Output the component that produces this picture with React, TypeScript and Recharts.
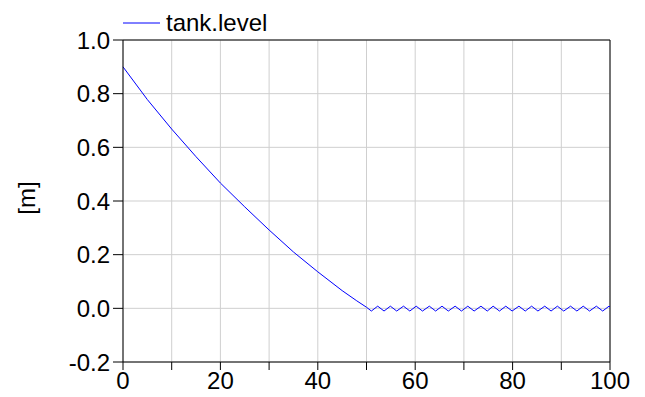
import { LineChart, Line, XAxis, YAxis, CartesianGrid, Legend, ReferenceLine } from "recharts"

// time [s] and tank level [m]
const time = [
  0, 5, 10, 15, 20, 25, 30, 35, 40, 45, 48, 50,
  51.0, 52.3, 53.6, 54.9, 56.2, 57.6, 58.9, 60.2, 61.5, 62.9, 64.2, 65.5,
  66.8, 68.2, 69.5, 70.8, 72.1, 73.5, 74.8, 76.0, 77.3, 78.6, 79.9, 81.3,
  82.6, 83.9, 85.2, 86.6, 87.9, 89.2, 90.5, 91.9, 93.2, 94.5, 95.8, 97.2,
  98.5, 99.8, 100,
]
const level = [
  0.9, 0.778, 0.668, 0.565, 0.467, 0.378, 0.292, 0.21, 0.136, 0.066, 0.028, 0.004,
  -0.01, 0.008, -0.01, 0.008, -0.01, 0.008, -0.01, 0.008, -0.01, 0.008, -0.01, 0.008,
  -0.01, 0.008, -0.01, 0.008, -0.01, 0.008, -0.01, 0.008, -0.01, 0.008, -0.01, 0.008,
  -0.01, 0.008, -0.01, 0.008, -0.01, 0.008, -0.01, 0.008, -0.01, 0.008, -0.01, 0.008,
  -0.01, 0.008, 0.005,
]

const xTicks = [0, 10, 20, 30, 40, 50, 60, 70, 80, 90, 100]
const yTicks = [-0.2, 0, 0.2, 0.4, 0.6, 0.8, 1.0]

const seriesName = "tank.level"
const unitLabel = "[m]"

const data = time.map((t, i) => ({ t, level: level[i] }))

const font = "Arial, 'Liberation Sans', sans-serif"
const tickStyle = { fontSize: 24, fill: "#000", fontFamily: font }

function LegendBox() {
  return (
    <svg width={200} height={30}>
      <line x1={3} y1={15} x2={40} y2={15} stroke="#0000ff" strokeWidth={1} />
      <text x={46} y={23} fontSize={24} fontFamily={font} fill="#000">
        {seriesName}
      </text>
    </svg>
  )
}

export default function App() {
  return (
    <div style={{ position: "absolute", left: 0, top: 0 }}>
      <LineChart width={645} height={397} data={data} margin={{ top: 40, right: 35, bottom: 0, left: 0 }}>
        <CartesianGrid stroke="#cfcfcf" strokeWidth={1} horizontal vertical />
        <XAxis
          dataKey="t"
          type="number"
          domain={[0, 100]}
          ticks={xTicks}
          interval={0}
          tickFormatter={(v: number) => (v % 20 === 0 ? String(v) : "")}
          tick={tickStyle}
          tickSize={8}
          tickMargin={2}
          stroke="#000"
          height={35}
        />
        <YAxis
          type="number"
          domain={[-0.2, 1.0]}
          ticks={yTicks}
          interval={0}
          tickFormatter={(v: number) => v.toFixed(1)}
          tick={tickStyle}
          tickSize={10}
          tickMargin={3}
          stroke="#000"
          width={123}
          label={{
            content: ({ viewBox }: any) => {
              const cy = viewBox.y + viewBox.height / 2 - 3
              return (
                <text
                  x={26}
                  y={cy}
                  transform={`rotate(-90 26 ${cy})`}
                  textAnchor="middle"
                  dominantBaseline="central"
                  fontSize={24}
                  fontFamily={font}
                  fill="#000"
                >
                  {unitLabel}
                </text>
              )
            },
          }}
        />
        <ReferenceLine y={1.0} stroke="#000" />
        <ReferenceLine x={100} stroke="#000" />
        <Legend
          verticalAlign="middle"
          align="center"
          content={() => <LegendBox />}
          wrapperStyle={{ top: 8, left: 120, width: 200 }}
        />
        <Line
          type="linear"
          dataKey="level"
          name={seriesName}
          stroke="#0000ff"
          strokeWidth={1}
          dot={false}
          isAnimationActive={false}
        />
      </LineChart>
    </div>
  )
}
